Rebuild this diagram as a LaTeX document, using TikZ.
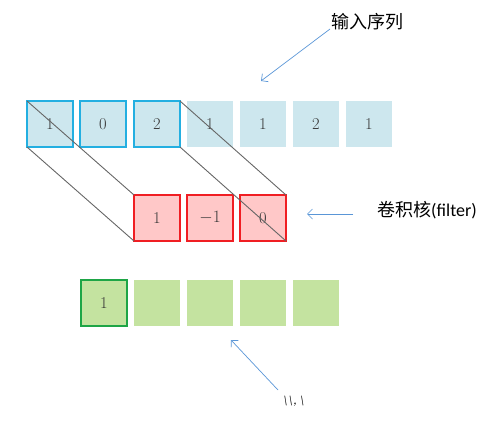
\documentclass[tikz,border=0pt]{standalone}
\usepackage{fontspec}
\newfontfamily\cjk{Noto Sans CJK SC}
\newfontfamily\lat{Carlito}
\usetikzlibrary{arrows.meta}
\definecolor{inblue}{RGB}{205,231,238}
\definecolor{inedge}{RGB}{35,175,225}
\definecolor{fpink}{RGB}{255,200,200}
\definecolor{fred}{RGB}{240,30,35}
\definecolor{ogreen}{RGB}{196,227,160}
\definecolor{oedge}{RGB}{30,165,70}
\definecolor{arrblue}{RGB}{90,150,215}
\definecolor{numgray}{RGB}{55,55,55}
\tikzset{
  cell/.style={minimum width=46pt,minimum height=46pt,inner sep=0pt,outer sep=0pt,
    font=\fontsize{16.5}{16.5}\selectfont,text=numgray},
  incell/.style={cell,fill=inblue},
  inhi/.style={incell,draw=inedge,line width=1.5pt},
  fcell/.style={cell,fill=fpink,draw=fred,line width=1.5pt},
  ocell/.style={cell,fill=ogreen},
  ohi/.style={ocell,draw=oedge,line width=1.5pt},
  link/.style={draw=black!60,line width=0.9pt},
  pointer/.style={draw=arrblue,line width=0.7pt,-{Straight Barb[length=5pt,width=10pt]}},
  lbl/.style={inner sep=0pt,font=\fontsize{18}{18}\selectfont}
}
\begin{document}
\begin{tikzpicture}[x=1pt,y=-1pt]
\useasboundingbox (0,0) rectangle (492,428);
% input sequence
\node[inhi]   (i1) at (50,124) {1};
\node[inhi]   (i2) at (103,124) {0};
\node[inhi]   (i3) at (157,124) {2};
\node[incell] (i4) at (210,124) {1};
\node[incell] (i5) at (263,124) {1};
\node[incell] (i6) at (316,124) {2};
\node[incell] (i7) at (369,124) {1};
% filter
\node[fcell] (f1) at (157,218) {1};
\node[fcell] (f2) at (210,218) {$-1$};
\node[fcell] (f3) at (263,218) {0};
% output
\node[ohi]   (o1) at (104,303) {1};
\node[ocell] (o2) at (157,303) {};
\node[ocell] (o3) at (210,303) {};
\node[ocell] (o4) at (263,303) {};
\node[ocell] (o5) at (316,303) {};
% projection lines
\draw[link] (i1.north west) -- (f1.north west);
\draw[link] (i1.south west) -- (f1.south west);
\draw[link] (i3.north east) -- (f3.north east);
\draw[link] (i3.south east) -- (f3.south east);
% labels
\node[lbl,anchor=west] (tin) at (331,22) {\cjk 输入序列};
\node[lbl,anchor=west] (tf) at (377,210) {\cjk 卷积核\lat(filter)};
\node[inner sep=0pt,anchor=west,font=\fontsize{10}{10}\bfseries\itshape] (tout) at (282,401) {\raisebox{1pt}{\textbackslash\kern-0.5pt\textbackslash},\kern2pt\raisebox{1pt}{\textbackslash}};
% pointers
\coordinate (a1s) at (330,29);
\coordinate (a1e) at (261,81);
\coordinate (a2s) at (353,214);
\coordinate (a2e) at (307,214);
\coordinate (a3s) at (278,390);
\coordinate (a3e) at (231,340);
\draw[pointer] (a1s) -- (a1e);
\draw[pointer] (a2s) -- (a2e);
\draw[pointer] (a3s) -- (a3e);
\end{tikzpicture}
\end{document}
